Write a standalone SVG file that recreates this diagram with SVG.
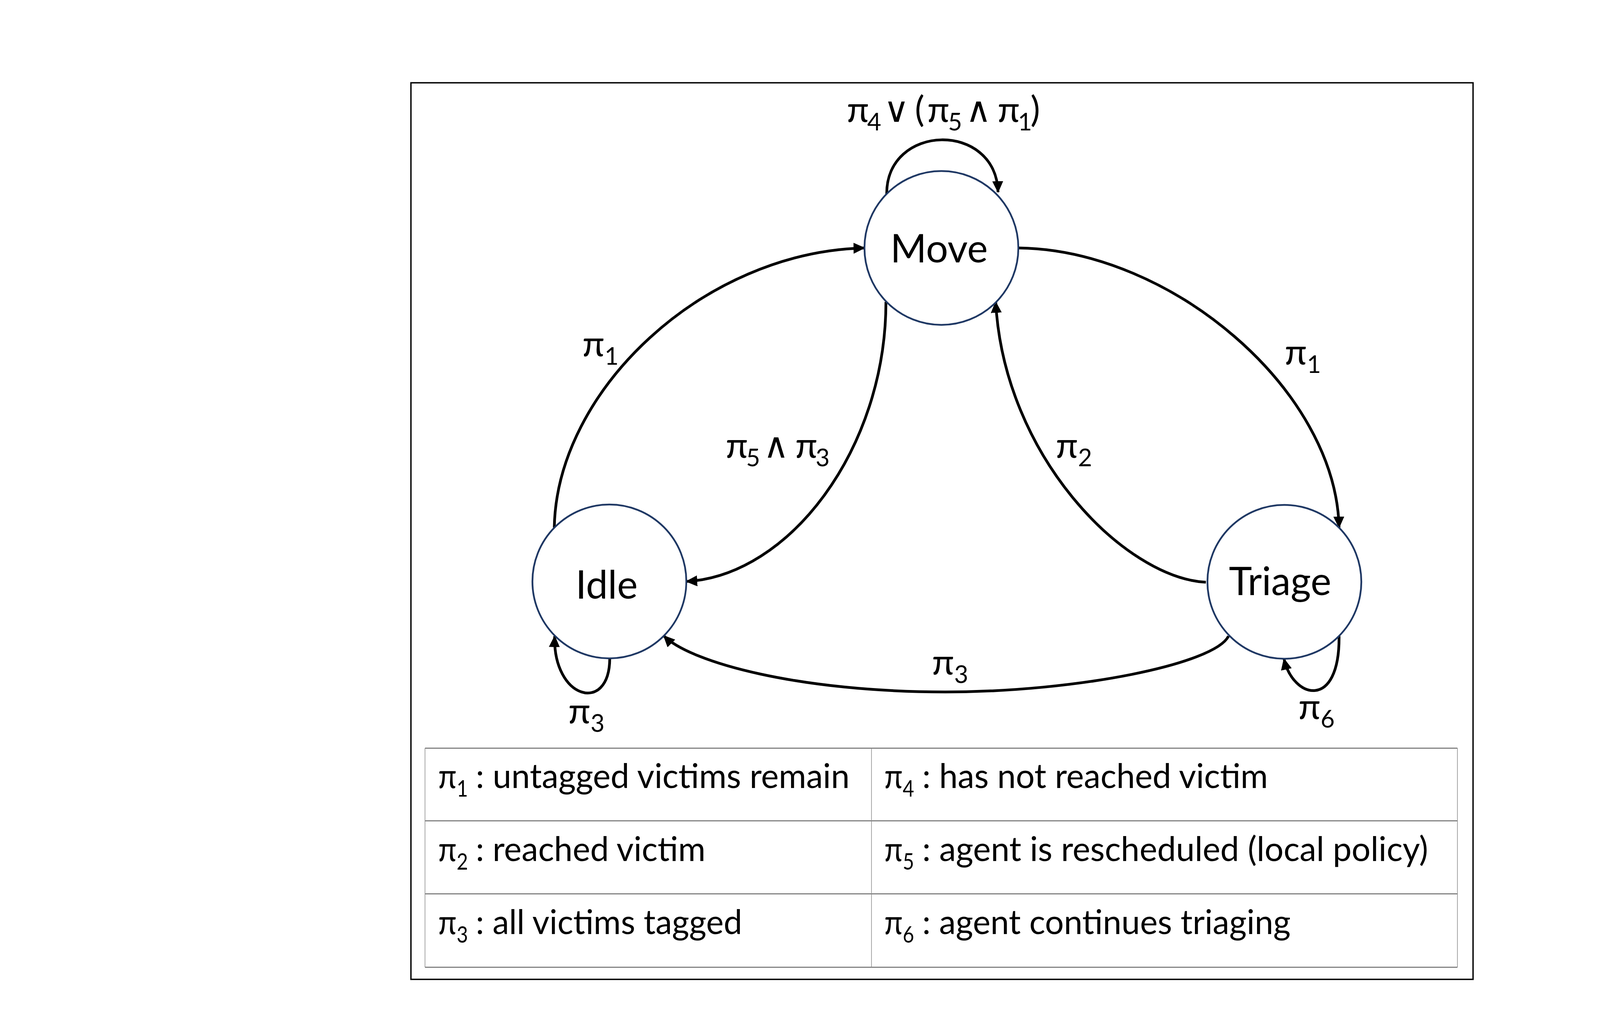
<svg xmlns="http://www.w3.org/2000/svg" width="4633" height="2630" viewBox="0 0 4633 2630">
<style>
  text { font-family: Lato, "Open Sans", "DejaVu Sans", sans-serif; fill: #000; }
  .node circle { fill: #fff; stroke: #1f3864; stroke-width: 4.5; }
  .node text { font-size: 100px; text-anchor: middle; }
  .edge { fill: none; stroke: #000; stroke-width: 7; marker-end: url(#arrow); }
  .lbl { font-size: 92px; }
  .lbl .sub { font-size: 62px; }
  .lbl .op { font-size: 90px; }
  .tb { font-size: 88px; }
  .tb .sub { font-size: 58px; }
  .hline { stroke: #6b6b6b; stroke-width: 2.5; }
  .vline { stroke: #8a8a8a; stroke-width: 1.5; }
</style>
<defs>
  <marker id="arrow" markerUnits="userSpaceOnUse" markerWidth="32" markerHeight="30" refX="28" refY="14" orient="auto" viewBox="0 0 32 30">
    <path d="M0,0 L30,14 L0,28 Z" fill="#000"/>
  </marker>
</defs>
<rect x="0" y="0" width="4633" height="2630" fill="#fff"/>
<rect id="frame" x="1052" y="212" width="2719" height="2296" fill="none" stroke="#000" stroke-width="3.5"/>

<g id="connectors">
  <path id="e-idle-move" class="edge" d="M1419,1351 C1425,1000 1800,645 2213,635"/>
  <path id="e-move-idle" class="edge" d="M2268,773 C2268,1150 2020,1475 1757,1489"/>
  <path id="e-triage-move" class="edge" d="M3087,1491 C2880,1480 2570,1170 2549,773"/>
  <path id="e-move-triage" class="edge" d="M2608,635 C3000,640 3420,1000 3428,1351"/>
  <path id="e-move-loop" class="edge" d="M2270,498 C2268,315 2550,310 2555,492"/>
  <path id="e-idle-loop" class="edge" d="M1561,1686 C1560,1830 1415,1790 1420,1629"/>
  <path id="e-triage-loop" class="edge" d="M3428,1629 C3430,1820 3310,1790 3287,1687"/>
  <path id="e-triage-idle" class="edge" d="M3145,1629 C3110,1700 2760,1772 2420,1772 C2050,1772 1769,1698 1699,1628"/>
</g>

<g id="edge-labels" class="lbl">
  <text y="312"><tspan x="2168">π</tspan><tspan class="sub" x="2220" dy="22">4</tspan><tspan class="op" x="2262" dy="-22">∨</tspan><tspan x="2342">(</tspan><tspan x="2374">π</tspan><tspan class="sub" x="2427" dy="22">5</tspan><tspan class="op" x="2472" dy="-22">∧</tspan><tspan x="2554">π</tspan><tspan class="sub" x="2606" dy="22">1</tspan><tspan x="2638" dy="-22">)</tspan></text>
  <text x="1491" y="912">π<tspan class="sub" dy="22">1</tspan></text>
  <text y="1172"><tspan x="1858">π</tspan><tspan class="sub" x="1910" dy="22">5</tspan><tspan class="op" x="1954" dy="-22">∧</tspan><tspan x="2036">π</tspan><tspan class="sub" x="2088" dy="22">3</tspan></text>
  <text x="2703" y="1172">π<tspan class="sub" dy="22">2</tspan></text>
  <text x="3289" y="933">π<tspan class="sub" dy="22">1</tspan></text>
  <text x="2386" y="1727">π<tspan class="sub" dy="22">3</tspan></text>
  <text x="1455" y="1852">π<tspan class="sub" dy="22">3</tspan></text>
  <text x="3324" y="1841">π<tspan class="sub" dy="22">6</tspan></text>
</g>

<g id="node-move" class="node">
  <circle cx="2410" cy="635" r="197"/>
  <text x="2404" y="672">Move</text>
</g>
<g id="node-idle" class="node">
  <circle cx="1560" cy="1489" r="197"/>
  <text x="1553" y="1533">Idle</text>
</g>
<g id="node-triage" class="node">
  <circle cx="3288" cy="1490" r="197"/>
  <text x="3277" y="1524">Triage</text>
</g>

<g id="legend-table">
  <line class="hline" x1="1088" y1="1916" x2="3731" y2="1916"/>
  <line class="hline" x1="1088" y1="2102" x2="3731" y2="2102"/>
  <line class="hline" x1="1088" y1="2289" x2="3731" y2="2289"/>
  <line class="hline" x1="1088" y1="2477" x2="3731" y2="2477"/>
  <line class="vline" x1="1088" y1="1916" x2="1088" y2="2477"/>
  <line class="vline" x1="2231" y1="1916" x2="2231" y2="2477"/>
  <line class="vline" x1="3731" y1="1916" x2="3731" y2="2477"/>
  <g class="tb">
    <text x="1122" y="2018" textLength="76" lengthAdjust="spacingAndGlyphs">π<tspan class="sub" dy="22">1</tspan></text>
    <text x="1218" y="2018" textLength="957" lengthAdjust="spacingAndGlyphs">: untagged victims remain</text>
    <text x="2264" y="2018" textLength="76" lengthAdjust="spacingAndGlyphs">π<tspan class="sub" dy="22">4</tspan></text>
    <text x="2361" y="2018" textLength="885" lengthAdjust="spacingAndGlyphs">: has not reached victim</text>
    <text x="1122" y="2205" textLength="76" lengthAdjust="spacingAndGlyphs">π<tspan class="sub" dy="22">2</tspan></text>
    <text x="1218" y="2205" textLength="588" lengthAdjust="spacingAndGlyphs">: reached victim</text>
    <text x="2264" y="2205" textLength="76" lengthAdjust="spacingAndGlyphs">π<tspan class="sub" dy="22">5</tspan></text>
    <text x="2361" y="2205" textLength="1295" lengthAdjust="spacingAndGlyphs">: agent is rescheduled (local policy)</text>
    <text x="1122" y="2392" textLength="76" lengthAdjust="spacingAndGlyphs">π<tspan class="sub" dy="22">3</tspan></text>
    <text x="1218" y="2392" textLength="682" lengthAdjust="spacingAndGlyphs">: all victims tagged</text>
    <text x="2264" y="2392" textLength="76" lengthAdjust="spacingAndGlyphs">π<tspan class="sub" dy="22">6</tspan></text>
    <text x="2361" y="2392" textLength="943" lengthAdjust="spacingAndGlyphs">: agent continues triaging</text>
  </g>
</g>
</svg>
